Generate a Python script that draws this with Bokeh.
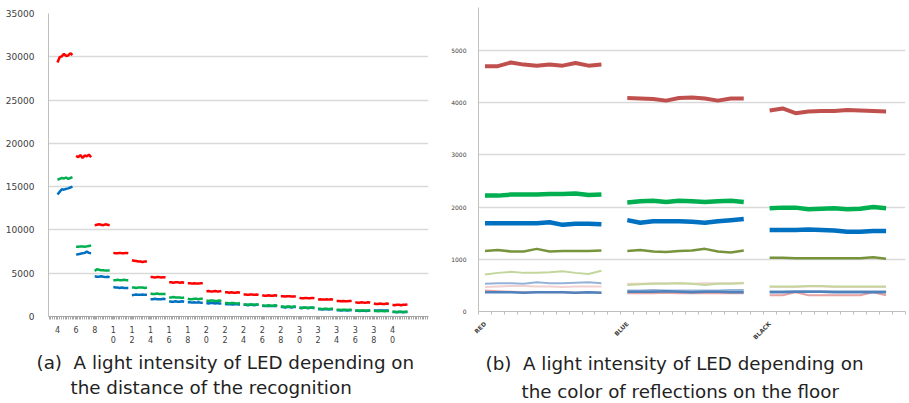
import numpy as np
from bokeh.plotting import figure
from bokeh.models import FixedTicker, Title
from bokeh.layouts import row
from bokeh.embed import file_html
from bokeh.resources import INLINE

# ---------------- Panel (a): intensity vs distance ----------------
distances = [4, 6, 8, 10, 12, 14, 16, 18, 20, 22, 24, 26, 28, 30, 32, 34, 36, 38, 40]

red_a = [
    [29350, 29950, 30050, 30350, 30100, 30150, 30400, 30200],
    [18550, 18400, 18650, 18300, 18600, 18500, 18700, 18400],
    [10550, 10600, 10650, 10600, 10550, 10650, 10600, 10550],
    [7350, 7300, 7300, 7350, 7300, 7300, 7350, 7300],
    [6500, 6450, 6400, 6350, 6350, 6300, 6350, 6350],
    [4550, 4550, 4500, 4550, 4550, 4500, 4550, 4500],
    [3950, 3950, 3900, 3950, 3950, 3900, 3950, 3900],
    [3850, 3850, 3800, 3850, 3800, 3800, 3850, 3850],
    [2900, 2950, 2900, 2900, 2950, 2900, 2900, 2950],
    [2800, 2800, 2750, 2800, 2750, 2750, 2800, 2750],
    [2550, 2550, 2500, 2550, 2550, 2500, 2550, 2500],
    [2450, 2400, 2400, 2450, 2400, 2400, 2450, 2400],
    [2350, 2350, 2300, 2350, 2350, 2300, 2300, 2350],
    [2150, 2100, 2100, 2150, 2100, 2100, 2150, 2100],
    [1950, 2000, 1950, 1950, 2000, 1950, 2000, 1950],
    [1800, 1800, 1750, 1800, 1750, 1750, 1800, 1800],
    [1650, 1600, 1600, 1650, 1600, 1600, 1650, 1600],
    [1500, 1450, 1450, 1500, 1450, 1450, 1500, 1450],
    [1350, 1300, 1350, 1350, 1300, 1350, 1350, 1400],
]
green_a = [
    [15800, 15900, 16000, 15950, 16050, 15900, 16000, 16100],
    [8050, 8050, 8100, 8100, 8050, 8100, 8150, 8200],
    [5250, 5450, 5400, 5350, 5350, 5300, 5300, 5350],
    [4200, 4200, 4250, 4200, 4200, 4250, 4200, 4200],
    [3350, 3350, 3300, 3350, 3350, 3350, 3300, 3350],
    [2650, 2600, 2600, 2650, 2600, 2600, 2600, 2600],
    [2200, 2200, 2250, 2200, 2200, 2200, 2150, 2200],
    [2050, 2000, 2000, 2050, 2050, 2000, 2050, 2050],
    [1850, 1800, 1850, 1850, 1800, 1800, 1850, 1800],
    [1550, 1550, 1500, 1550, 1550, 1500, 1500, 1550],
    [1400, 1400, 1350, 1400, 1400, 1350, 1400, 1400],
    [1300, 1250, 1250, 1300, 1250, 1250, 1300, 1250],
    [1150, 1150, 1100, 1150, 1150, 1100, 1150, 1150],
    [1000, 1000, 1050, 1000, 1000, 1000, 1050, 1000],
    [900, 900, 850, 900, 900, 850, 900, 900],
    [780, 780, 750, 780, 780, 750, 780, 780],
    [700, 700, 680, 700, 700, 680, 700, 700],
    [640, 640, 620, 640, 640, 620, 640, 640],
    [550, 550, 530, 550, 550, 530, 550, 550],
]
blue_a = [
    [14100, 14400, 14700, 14650, 14750, 14800, 14900, 15000],
    [7150, 7200, 7250, 7300, 7350, 7500, 7350, 7300],
    [4650, 4600, 4600, 4650, 4600, 4550, 4600, 4550],
    [3400, 3350, 3350, 3300, 3350, 3300, 3300, 3300],
    [2450, 2500, 2550, 2500, 2500, 2550, 2500, 2500],
    [2000, 2000, 2050, 2000, 2000, 2000, 2050, 2000],
    [1750, 1700, 1700, 1750, 1700, 1700, 1750, 1700],
    [1650, 1650, 1600, 1650, 1600, 1650, 1600, 1600],
    [1550, 1500, 1550, 1550, 1500, 1550, 1500, 1500],
    [1450, 1400, 1450, 1400, 1400, 1450, 1400, 1400],
    [1350, 1350, 1300, 1350, 1350, 1300, 1350, 1350],
    [1250, 1200, 1200, 1250, 1200, 1200, 1250, 1200],
    [1100, 1100, 1050, 1100, 1100, 1050, 1100, 1100],
    [1000, 950, 1000, 1000, 950, 1000, 1000, 950],
    [850, 850, 800, 850, 850, 800, 850, 850],
    [730, 730, 700, 730, 730, 700, 730, 730],
    [650, 650, 620, 650, 650, 620, 650, 650],
    [680, 700, 680, 700, 680, 700, 680, 690],
    [520, 520, 500, 520, 520, 500, 520, 520],
]
y_ticks_a = [0, 5000, 10000, 15000, 20000, 25000, 30000, 35000]

# ---------------- Panel (b): intensity vs floor colour ----------------
groups_b = ["RED", "BLUE", "BLACK"]
s_darkred = [[4700, 4700, 4770, 4730, 4710, 4730, 4710, 4760, 4710, 4730],
             [4090, 4080, 4070, 4040, 4090, 4100, 4080, 4040, 4080, 4080],
             [3850, 3890, 3800, 3830, 3840, 3840, 3860, 3850, 3840, 3830]]
s_green = [[2220, 2220, 2240, 2240, 2240, 2250, 2250, 2260, 2230, 2240],
           [2090, 2110, 2120, 2100, 2120, 2110, 2100, 2110, 2120, 2100],
           [1980, 1990, 1990, 1960, 1970, 1980, 1960, 1970, 2000, 1980]]
s_blue = [[1690, 1690, 1690, 1690, 1690, 1710, 1660, 1680, 1680, 1670],
          [1750, 1700, 1730, 1730, 1730, 1720, 1700, 1730, 1750, 1770],
          [1560, 1560, 1560, 1570, 1560, 1550, 1530, 1530, 1540, 1540]]
s_olive = [[1160, 1180, 1150, 1150, 1200, 1150, 1160, 1160, 1160, 1170],
           [1160, 1180, 1150, 1140, 1160, 1170, 1200, 1150, 1130, 1170],
           [1030, 1030, 1020, 1020, 1020, 1020, 1020, 1020, 1040, 1010]]
s_lightgreen = [[710, 740, 760, 740, 740, 750, 770, 740, 720, 780],
                [510, 520, 530, 530, 540, 530, 510, 530, 530, 540],
                [480, 480, 480, 490, 490, 480, 480, 480, 480, 480]]
s_lightblue = [[530, 540, 540, 530, 560, 540, 540, 550, 560, 540],
               [400, 400, 410, 400, 400, 400, 400, 400, 410, 410],
               [390, 390, 390, 390, 390, 390, 390, 390, 390, 390]]
s_lightpink = [[470, 480, 490, 490, 480, 480, 470, 480, 480, 480],
               [530, 530, 540, 540, 540, 530, 540, 540, 540, 550],
               [470, 470, 470, 480, 480, 470, 470, 470, 470, 470]]
s_pinkred = [[400, 390, 380, 370, 370, 370, 370, 360, 370, 360],
             [350, 350, 350, 360, 350, 350, 350, 350, 350, 350],
             [310, 310, 370, 310, 310, 310, 310, 310, 370, 310]]
s_midblue = [[370, 370, 370, 360, 370, 370, 370, 360, 370, 360],
             [380, 380, 380, 390, 380, 370, 380, 380, 370, 370],
             [370, 370, 380, 380, 380, 370, 370, 370, 370, 370]]
y_ticks_b = [0, 1000, 2000, 3000, 4000, 5000]

CAPTION_FONT = "DejaVu Sans"
LABEL_FONT = "DejaVu Sans"
CAP_SIZE = "18.3px"
GRID = "#d9d9d9"
AXIS = "#bfbfbf"
FIG_H = 403

# ---------- figure (a) ----------
p1 = figure(width=448, height=FIG_H, x_range=(3.033, 43.87), y_range=(0, 35000),
            output_backend="svg", toolbar_location=None,
            min_border_left=48, min_border_right=20, min_border_top=13,
            min_border_bottom=FIG_H - 13 - 303)
p1.frame_align = False
step_a = 0.23
for color, vals in [("#0070C0", blue_a), ("#00B050", green_a), ("#FF0000", red_a)]:
    xs = [[d + i * step_a for i in range(len(v))] for d, v in zip(distances, vals)]
    p1.multi_line(xs=xs, ys=vals, line_color=color, line_width=2.5)

p1.outline_line_color = None
p1.xgrid.visible = False
p1.ygrid.grid_line_color = GRID
p1.ygrid.grid_line_width = 1.3
p1.yaxis.ticker = FixedTicker(ticks=y_ticks_a)
p1.ygrid.ticker = FixedTicker(ticks=y_ticks_a)
p1.yaxis.axis_line_color = AXIS
p1.yaxis.major_tick_line_color = None
p1.yaxis.minor_tick_line_color = None
p1.yaxis.major_label_text_font = LABEL_FONT
p1.yaxis.major_label_text_font_size = "9px"
p1.yaxis.major_label_text_color = "#404040"
p1.yaxis.major_label_standoff = 8

p1.xaxis.ticker = FixedTicker(ticks=distances, minor_ticks=list(np.arange(3.1, 43.85, 0.19)))
p1.xaxis.major_label_overrides = {d: "\n".join(str(d)) for d in distances}
p1.xaxis.axis_line_color = "#a6a6a6"
p1.xaxis.major_tick_line_color = "#a6a6a6"
p1.xaxis.minor_tick_line_color = "#a6a6a6"
p1.xaxis.major_tick_in = 0
p1.xaxis.major_tick_out = 3
p1.xaxis.minor_tick_in = 0
p1.xaxis.minor_tick_out = 3
p1.xaxis.major_label_text_font = LABEL_FONT
p1.xaxis.major_label_text_font_size = "8px"
p1.xaxis.major_label_text_color = "#404040"
p1.xaxis.major_label_standoff = 6

p1.add_layout(Title(text="(a)\u00a0\u00a0A light intensity of LED depending on", align="left", offset=-12,
                    text_font=CAPTION_FONT, text_font_size=CAP_SIZE, text_font_style="normal",
                    text_color="#222222", standoff=2), "below")
p1.add_layout(Title(text="the distance of the recognition", align="left", offset=22,
                    text_font=CAPTION_FONT, text_font_size=CAP_SIZE, text_font_style="normal",
                    text_color="#222222", standoff=2), "below")

# ---------- figure (b) ----------
p2 = figure(width=461, height=FIG_H, x_range=(-0.5, 32.5), y_range=(0, 5824),
            output_backend="svg", toolbar_location=None,
            min_border_left=28, min_border_right=4, min_border_top=7,
            min_border_bottom=FIG_H - 7 - 304)
p2.frame_align = False

n_per = len(s_darkred[0])
series_b = [
    (s_pinkred, "#E6A3A1", 2),
    (s_lightpink, "#F2D0CF", 2),
    (s_lightblue, "#95B3D7", 2),
    (s_midblue, "#4F81BD", 2.5),
    (s_lightgreen, "#C3D69B", 2),
    (s_olive, "#77933C", 2.5),
    (s_blue, "#0070C0", 4.5),
    (s_green, "#00B050", 4.5),
    (s_darkred, "#C0504D", 4),
]
for vals, color, w in series_b:
    xs = [[g * (n_per + 1) + i for i in range(len(v))] for g, v in enumerate(vals)]
    p2.multi_line(xs=xs, ys=vals, line_color=color, line_width=w)

p2.outline_line_color = None
p2.xgrid.visible = False
p2.ygrid.grid_line_color = GRID
p2.ygrid.grid_line_width = 1.3
p2.yaxis.ticker = FixedTicker(ticks=y_ticks_b)
p2.ygrid.ticker = FixedTicker(ticks=y_ticks_b)
p2.yaxis.axis_line_color = AXIS
p2.yaxis.major_tick_line_color = None
p2.yaxis.minor_tick_line_color = None
p2.yaxis.major_label_text_font = LABEL_FONT
p2.yaxis.major_label_text_font_size = "6px"
p2.yaxis.major_label_text_color = "#404040"
p2.yaxis.major_label_standoff = 6

group_pos = [g * (n_per + 1) for g in range(len(groups_b))]
p2.xaxis.ticker = FixedTicker(ticks=group_pos, minor_ticks=[k - 0.5 for k in range(34)])
p2.xaxis.major_label_overrides = {pos: name for pos, name in zip(group_pos, groups_b)}
p2.xaxis.major_label_orientation = np.pi / 4
p2.xaxis.axis_line_color = AXIS
p2.xaxis.major_tick_line_color = None
p2.xaxis.minor_tick_line_color = AXIS
p2.xaxis.minor_tick_in = 0
p2.xaxis.minor_tick_out = 3
p2.xaxis.major_label_text_font = LABEL_FONT
p2.xaxis.major_label_text_font_size = "6px"
p2.xaxis.major_label_text_font_style = "bold"
p2.xaxis.major_label_text_color = "#404040"
p2.xaxis.major_label_standoff = 5

p2.add_layout(Title(text="(b)\u00a0\u00a0A light intensity of LED depending on", align="left", offset=7,
                    text_font=CAPTION_FONT, text_font_size=CAP_SIZE, text_font_style="normal",
                    text_color="#222222", standoff=8), "below")
p2.add_layout(Title(text="the color of reflections on the floor", align="left", offset=43,
                    text_font=CAPTION_FONT, text_font_size=CAP_SIZE, text_font_style="normal",
                    text_color="#222222", standoff=3), "below")

layout = row(p1, p2)
open("out.html", "w").write(file_html(layout, INLINE))
